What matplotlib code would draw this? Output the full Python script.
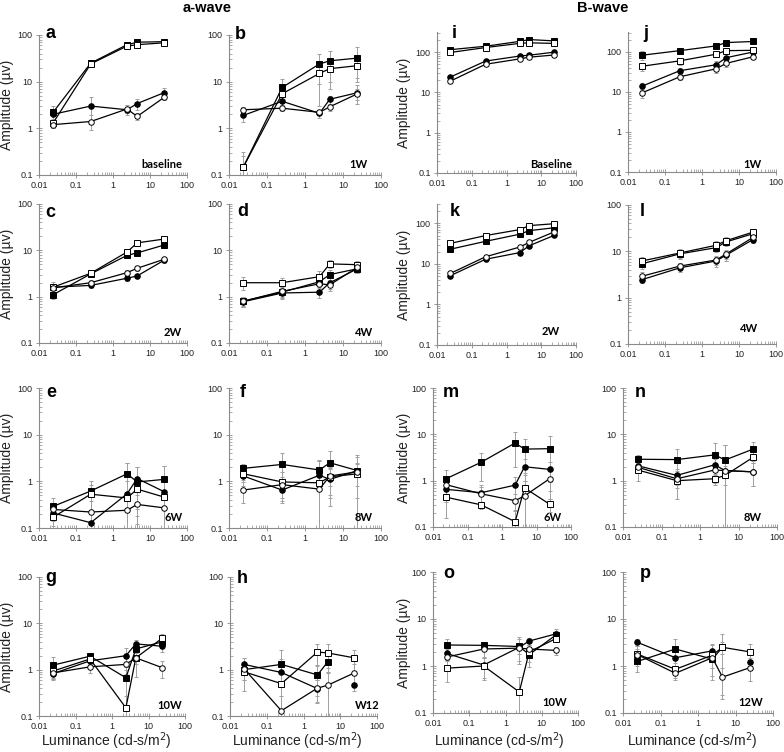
import numpy as np
import matplotlib
matplotlib.use('Agg')
import matplotlib.pyplot as plt
from matplotlib.ticker import LogLocator, NullFormatter, FixedLocator, FixedFormatter

plt.rcParams['font.family'] = ['Liberation Sans', 'DejaVu Sans']

W, H = 784, 752
nan = np.nan

luminance = [0.024, 0.25, 2.4, 4.5, 24]
x_ticks = [0.01, 0.1, 1, 10, 100]
x_tick_labels = ['0.01', '0.1', '1', '10', '100']
y_ticks = [0.1, 1, 10, 100]
y_tick_labels = ['0.1', '1', '10', '100']

# series order in every panel: filled square, open square, filled circle, open circle
a_mean = [[2.2, 25, 62, 70, 72], [1.3, 24, 58, 62, 68], [2.0, 3.0, 2.5, 3.4, 5.8], [1.2, 1.4, 2.6, 1.8, 4.6]]
a_err = [[0.8, 2, 8, 10, 8], [0.3, 2, 8, 8, 8], [0.5, 1.6, 0.6, 0.9, 1.5], [0.2, 0.5, 0.5, 0.3, 0.6]]
b_mean = [[0.15, 7.5, 24, 28, 32], [0.15, 5.5, 15, 19, 22], [1.9, 3.8, 2.1, 4.2, 5.8], [2.5, 2.7, 2.2, 2.9, 5.5]]
b_err = [[0.1, 4, 15, 18, 22], [0.16, 3, 12, 12, 10], [0.5, 1.0, 0.4, 0.8, 2.5], [0.3, 0.4, 0.3, 0.5, 1.5]]
c_mean = [[1.1, 3.1, 7.8, 8.8, 13], [1.6, 3.2, 9.2, 14.5, 17.5], [1.6, 1.75, 2.5, 2.8, 6.1], [1.55, 2.0, 3.3, 4.1, 6.4]]
c_err = [[0.2, 0.3, 0.8, 0.8, 1.0], [0.5, 0.3, 1.0, 1.5, 2.0], [0.2, 0.2, 0.3, 0.3, 0.8], [0.3, 0.3, 0.5, 0.5, 0.8]]
d_mean = [[0.8, 1.25, 2.1, 3.0, 4.0], [2.0, 2.0, 2.7, 5.1, 4.9], [0.78, 1.2, 1.25, 2.0, 4.0], [0.8, 1.3, 1.9, 1.8, 4.3]]
d_err = [[0.2, 0.3, 0.5, 0.8, 0.8], [0.6, 0.5, 0.8, 1.0, 1.0], [0.15, 0.3, 0.3, 0.5, 0.8], [0.2, 0.3, 0.5, 0.5, 1.0]]
e_mean = [[0.29, 0.62, 1.45, 0.97, 1.1], [0.17, 0.53, 0.44, 0.68, 0.46], [0.21, 0.13, 0.54, 1.15, 0.6], [0.25, 0.22, 0.24, 0.32, 0.27]]
e_err = [[0.15, 0.4, 1.0, 1.1, 1.0], [0.1, 0.3, 0.6, 0.5, 0.5], [0.1, 0.1, 1.9, 0.9, 1.5], [0.1, 0.15, 0.3, 0.2, 0.2]]
f_mean = [[1.9, 2.3, 1.75, 2.5, 1.7], [1.45, 0.97, 0.93, 1.25, 1.45], [1.3, 0.65, 1.35, 1.1, 1.7], [0.65, 0.85, 0.68, 1.3, 1.6]]
f_err = [[0.5, 1.7, 1.0, 2.0, 1.6], [0.4, 0.6, 1.8, 0.8, 1.0], [0.5, 0.3, 1.5, 0.8, 2.0], [0.3, 0.4, 0.6, 0.5, 0.8]]
g_mean = [[1.25, 1.95, 0.67, 2.8, 4.0], [0.93, 1.7, 0.15, 1.8, 4.8], [0.82, 1.55, 2.0, 3.6, 3.2], [0.85, 1.15, 1.3, 1.8, 1.1]]
g_err = [[0.6, 0.3, 0.5, 1.0, 1.0], [0.3, 0.4, 0.12, 1.1, 1.0], [0.2, 0.4, 1.0, 0.8, 0.8], [0.25, 0.3, 0.5, 0.5, 0.45]]
h_mean = [[1.0, 1.3, 0.77, 1.45, nan], [0.9, 0.5, 2.4, 2.3, 1.8], [1.3, 0.87, 0.39, nan, 0.46], [1.05, 0.13, 0.4, 0.46, 0.85]]
h_err = [[0.4, 0.4, 0.5, 0.6, 0], [0.3, 2.1, 1.2, 1.2, 0.9], [0.5, 0.3, 0.2, 0, 0], [0.7, 0.14, 0.2, 0.45, 0.5]]
i_mean = [[115, 140, 185, 205, 190], [98, 130, 165, 170, 165], [24, 60, 80, 84, 100], [19, 50, 68, 75, 85]]
i_err = [[12, 15, 20, 25, 20], [10, 12, 15, 18, 15], [3, 6, 8, 8, 10], [2, 5, 6, 7, 8]]
j_mean = [[83, 108, 142, 172, 183], [44, 60, 88, 108, 110], [14, 34, 48, 72, 100], [9.5, 24, 38, 52, 76]]
j_err = [[20, 20, 25, 25, 25], [10, 12, 15, 20, 18], [3, 6, 10, 15, 15], [2.5, 4, 8, 10, 10]]
k_mean = [[23, 36, 54, 66, 78], [32, 50, 70, 88, 98], [5.1, 13, 19, 28, 51], [5.8, 15, 26, 34, 62]]
k_err = [[3, 4, 6, 8, 8], [4, 5, 8, 10, 10], [0.6, 1.5, 2, 4, 5], [0.8, 2, 3, 4, 6]]
l_mean = [[5.4, 8.8, 12, 16, 24], [6.2, 9.2, 13.5, 17, 26], [2.45, 4.4, 6.2, 8.3, 18], [2.9, 4.8, 6.5, 8.8, 20]]
l_err = [[1.2, 1.8, 2.5, 3, 3], [1.5, 2, 3, 3, 3], [0.4, 0.8, 1.5, 2, 3], [0.6, 0.8, 1.5, 2, 3]]
m_mean = [[1.1, 2.5, 6.5, 4.8, 4.9], [0.44, 0.3, 0.13, 0.7, 0.31], [0.65, 0.55, 0.8, 2.0, 1.75], [0.82, 0.52, 0.37, 0.47, 1.1]]
m_err = [[0.6, 1.5, 4.5, 3.3, 4.5], [0.28, 0.05, 0.1, 0.6, 0.1], [0.3, 0.25, 0.4, 1.0, 0.8], [0.3, 0.2, 0.15, 0.5, 0.5]]
n_mean = [[2.9, 2.85, 3.6, 2.8, 4.8], [1.7, 1.0, 1.1, 1.3, 3.2], [2.1, 1.3, 2.2, 1.65, 1.55], [1.95, 1.1, 1.7, 1.65, 1.55]]
n_err = [[0.7, 2.0, 2.8, 3.0, 2.2], [0.7, 0.6, 0.2, 0.5, 1.5], [0.6, 0.5, 0.8, 4.1, 0.8], [0.5, 0.4, 0.5, 0.4, 0.8]]
o_mean = [[2.8, 2.75, 2.6, 1.75, 4.5], [0.9, 1.0, 0.28, 2.0, 3.8], [1.85, 1.05, 2.5, 3.4, 4.8], [1.55, 2.3, 2.4, 2.3, 2.15]]
o_err = [[1.0, 0.3, 1.5, 0.8, 1.0], [0.45, 0.5, 0.3, 0.8, 0.6], [0.5, 0.5, 1.2, 0.6, 1.2], [0.3, 0.8, 0.6, 0.5, 0.4]]
p_mean = [[1.25, 2.3, 1.4, 2.5, nan], [1.8, 0.85, 1.7, 2.5, 2.0], [3.2, 1.5, 2.1, nan, 1.2], [1.75, 0.7, 1.5, 0.58, 0.92]]
p_err = [[0.5, 1.5, 0.8, 2.3, 0], [0.8, 0.3, 1.2, 0.7, 1.0], [0.6, 0.5, 0.7, 0, 0.3], [0.5, 0.2, 0.6, 0.34, 0.45]]

panel_letters = ['a', 'b', 'i', 'j', 'c', 'd', 'k', 'l', 'e', 'f', 'm', 'n', 'g', 'h', 'o', 'p']
condition_labels = ['baseline', '1W', 'Baseline', '1W', '2W', '4W', '2W', '4W',
                    '6W', '8W', '6W', '8W', '10W', 'W12', '10W', '12W']
means = [a_mean, b_mean, i_mean, j_mean, c_mean, d_mean, k_mean, l_mean,
         e_mean, f_mean, m_mean, n_mean, g_mean, h_mean, o_mean, p_mean]
errs = [a_err, b_err, i_err, j_err, c_err, d_err, k_err, l_err,
        e_err, f_err, m_err, n_err, g_err, h_err, o_err, p_err]

# layout (pixels): left, right, top, bottom, ytop
boxes = [
    (39, 187, 35, 175, 100), (229, 381, 35, 175, 100), (437, 576, 32, 173, 316), (628, 776, 32, 172, 316),
    (39, 187, 204, 343, 100), (229, 381, 204, 343, 100), (437, 576, 204, 345, 300), (628, 776, 205, 344, 100),
    (39, 187, 388, 528, 100), (229, 381, 388, 528, 100), (433, 571, 388, 527, 100), (623, 777, 388, 527, 100),
    (39, 185, 577, 716, 100), (230, 377, 577, 716, 100), (433, 578, 572, 713, 100), (623, 773, 572, 713, 100),
]
letter_pos = [(45, 38), (235, 39), (452, 38), (643, 38), (45, 217), (237, 216), (450, 216), (640, 216),
              (46, 397), (240, 397), (443, 397), (635, 397), (45, 582), (237, 583), (443, 578), (640, 578)]
cond_pos = [(182, 168), (368, 168), (572, 168), (762, 168), (182, 336), (373, 336), (560, 335), (758, 332),
            (183, 521), (373, 521), (562, 521), (762, 521), (182, 709), (380, 709), (567, 706), (763, 706)]

markers = ['s', 's', 'o', 'o']
face = ['black', 'white', 'black', 'white']
msize = [4.5, 4.5, 4.0, 4.0]

fig = plt.figure(figsize=(W / 100, H / 100), dpi=100)

def fx(px):
    return px / W

def fy(py):
    return 1 - py / H

for idx in range(16):
    l, r, t, b, ytop = boxes[idx]
    ax = fig.add_axes([fx(l), fy(b), (r - l) / W, (b - t) / H])
    ax.set_xscale('log')
    ax.set_yscale('log')
    ax.set_xlim(0.01, 100)
    ax.set_ylim(0.1, ytop)
    for k in range(4):
        y = np.array(means[idx][k], dtype=float)
        e = np.array(errs[idx][k], dtype=float)
        ax.errorbar(luminance, y, yerr=e, fmt='none', ecolor='#a0a0a0', elinewidth=0.7,
                    capsize=1.6, capthick=0.7, zorder=1)
    for k in range(4):
        y = np.array(means[idx][k], dtype=float)
        ax.plot(luminance, y, color='black', lw=0.9, marker=markers[k], ms=msize[k],
                mfc=face[k], mec='black', mew=0.7, zorder=3 + (k % 2))
    for s in ['top', 'right']:
        ax.spines[s].set_visible(False)
    for s in ['left', 'bottom']:
        ax.spines[s].set_color('#8a8a8a')
        ax.spines[s].set_linewidth(0.8)
    ax.xaxis.set_major_locator(FixedLocator(x_ticks))
    ax.xaxis.set_major_formatter(FixedFormatter(x_tick_labels))
    ax.yaxis.set_major_locator(FixedLocator(y_ticks))
    ax.yaxis.set_major_formatter(FixedFormatter(y_tick_labels))
    ax.xaxis.set_minor_locator(LogLocator(base=10, subs=np.arange(2, 10)))
    ax.yaxis.set_minor_locator(LogLocator(base=10, subs=np.arange(2, 10)))
    ax.xaxis.set_minor_formatter(NullFormatter())
    ax.yaxis.set_minor_formatter(NullFormatter())
    ax.tick_params(which='major', direction='inout', length=4, width=0.6, color='#8a8a8a',
                   labelsize=6.5, labelcolor='#222222', pad=2.5)
    ax.tick_params(which='minor', direction='in', length=2, width=0.5, color='#8a8a8a')
    ax.patch.set_alpha(0)

    lx, ly = letter_pos[idx]
    fig.text(fx(lx), fy(ly), panel_letters[idx], fontsize=13, fontweight='bold', ha='left', va='baseline')
    cx, cy = cond_pos[idx]
    fig.text(fx(cx), fy(cy), condition_labels[idx], fontsize=8, fontweight='bold',
             family=['Lato', 'DejaVu Sans'], ha='right', va='baseline')
    if idx % 4 in (0, 2):
        xlab = 7 if idx % 4 == 0 else 404
        fig.text(fx(xlab), fy((t + b) / 2), 'Amplitude (µv)', rotation=90, fontsize=10,
                 ha='center', va='center', color='#222222')
    if idx >= 12:
        fig.text(fx((l + r) / 2 - 6), fy(741), 'Luminance (cd-s/m$^2$)', fontsize=10,
                 ha='center', va='center', color='#222222')

fig.text(fx(207), fy(8), 'a-wave', fontsize=10.5, fontweight='bold', ha='center', va='center')
fig.text(fx(603), fy(8), 'B-wave', fontsize=10.5, fontweight='bold', ha='center', va='center')

fig.savefig('out.png', dpi=100)
